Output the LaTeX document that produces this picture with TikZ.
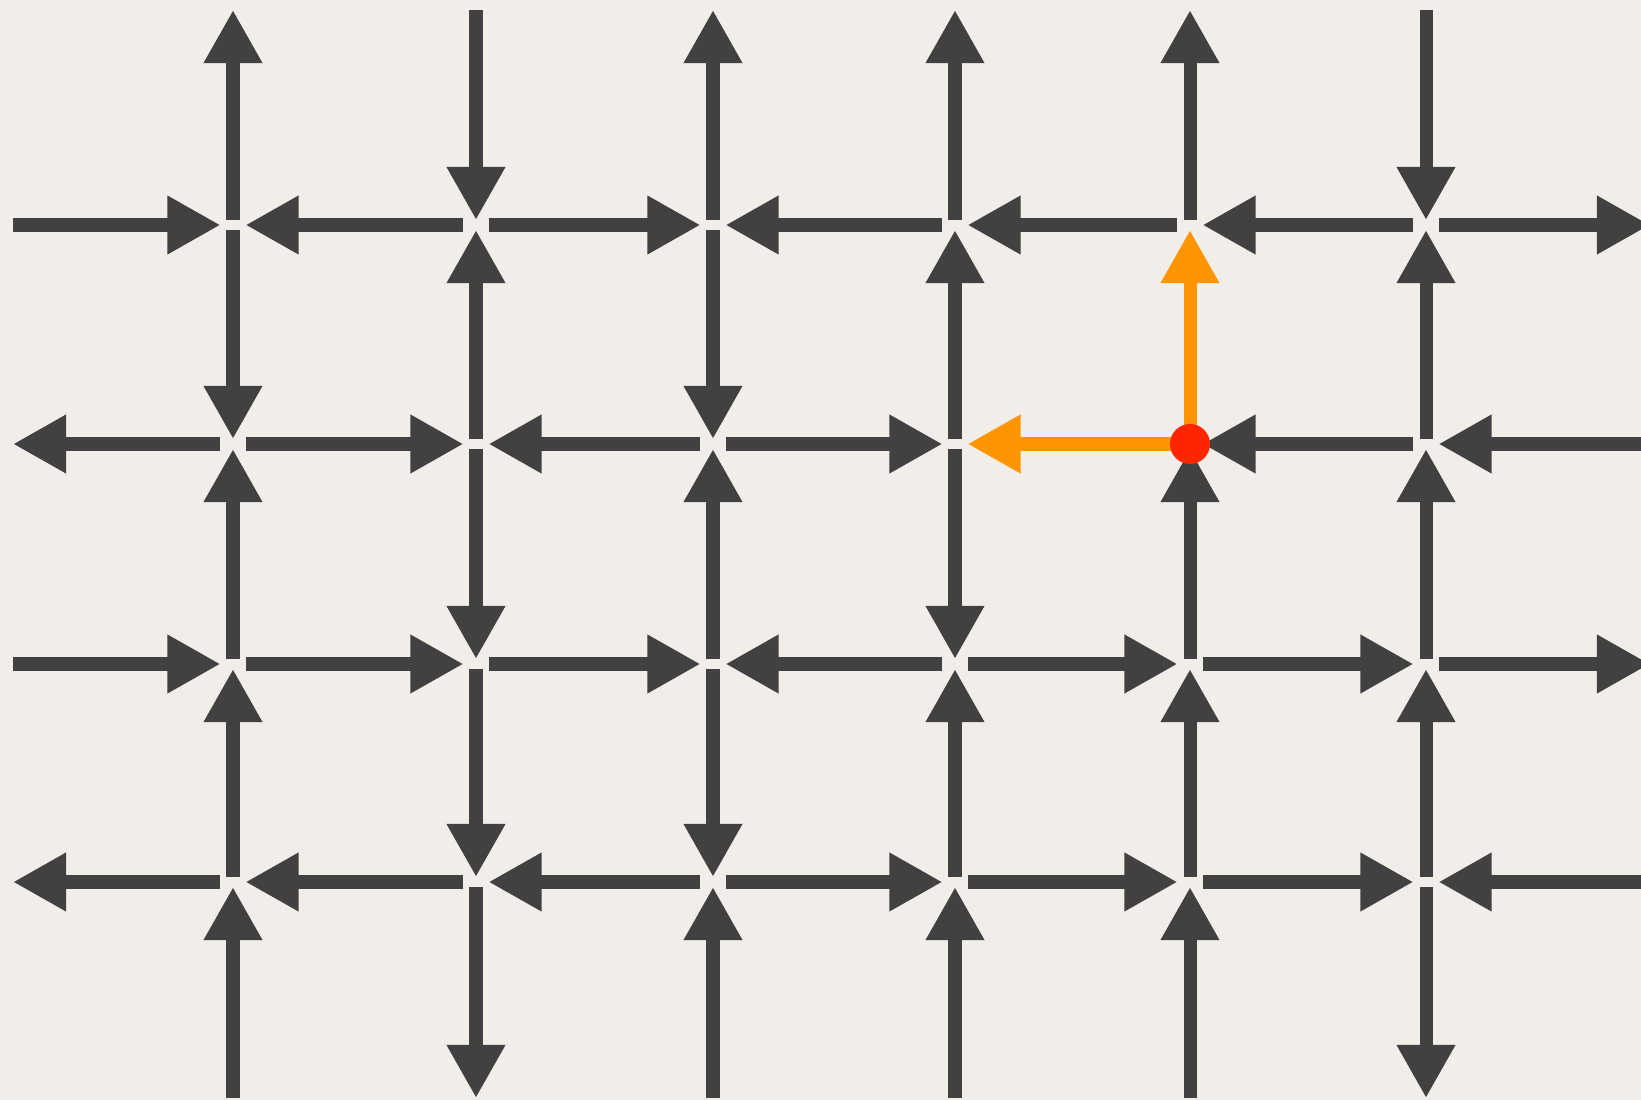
\documentclass[tikz,border=0pt]{standalone}
\usetikzlibrary{arrows.meta}
\definecolor{ink}{HTML}{414141}
\definecolor{paperA}{HTML}{F1EEE9}
\definecolor{paperB}{HTML}{E2DFDA}
\definecolor{orng}{HTML}{FF9500}
\definecolor{dotred}{HTML}{FF2600}
\tikzset{
  edge/.style={draw=ink, line width=0.13cm, line cap=butt,
    -{Triangle[length=0.53cm,width=0.55cm]}},
  hedge/.style={edge, shorten <=0.125cm, shorten >=0.125cm},
  vedge/.style={edge, shorten <=0.05cm, shorten >=0.05cm},
  hot/.style={draw=orng, shorten <=0cm},
  dotnode/.style={circle, fill=dotred, minimum size=0.4cm, inner sep=0pt}
}
\begin{document}
\begin{tikzpicture}[x=0.01cm, y=-0.01cm]
\useasboundingbox (0,0) rectangle (1641,1100);
\shade[top color=paperA, middle color=paperB, bottom color=paperA] (0,0) rectangle (1641,1100);
\clip (0,0) rectangle (1641,1100);
% grid points
\foreach \c/\x in {1/233, 2/476, 3/713, 4/955, 5/1190, 6/1426}{
  \foreach \r/\y in {1/225, 2/444, 3/664, 4/882}{
    \coordinate (n-\c-\r) at (\x,\y);
  }
  \coordinate (n-\c-0) at (\x,5);
  \coordinate (n-\c-5) at (\x,1103);
}
\foreach \r/\y in {1/225, 2/444, 3/664, 4/882}{
  \coordinate (n-0-\r) at (0.5,\y);
  \coordinate (n-7-\r) at (1662.5,\y);
}
% horizontal connectors
\foreach \a/\b in {
  0-1/1-1, 2-1/1-1, 2-1/3-1, 4-1/3-1, 5-1/4-1, 6-1/5-1, 6-1/7-1,
  1-2/0-2, 1-2/2-2, 3-2/2-2, 3-2/4-2, 6-2/5-2, 7-2/6-2,
  0-3/1-3, 1-3/2-3, 2-3/3-3, 4-3/3-3, 4-3/5-3, 5-3/6-3, 6-3/7-3,
  1-4/0-4, 2-4/1-4, 3-4/2-4, 3-4/4-4, 4-4/5-4, 5-4/6-4, 7-4/6-4}
  \draw[hedge] (n-\a) -- (n-\b);
% vertical connectors
\foreach \a/\b in {
  1-1/1-0, 1-1/1-2, 1-3/1-2, 1-4/1-3, 1-5/1-4,
  2-0/2-1, 2-2/2-1, 2-2/2-3, 2-3/2-4, 2-4/2-5,
  3-1/3-0, 3-1/3-2, 3-3/3-2, 3-3/3-4, 3-5/3-4,
  4-1/4-0, 4-2/4-1, 4-2/4-3, 4-4/4-3, 4-5/4-4,
  5-1/5-0, 5-3/5-2, 5-4/5-3, 5-5/5-4,
  6-0/6-1, 6-2/6-1, 6-3/6-2, 6-4/6-3, 6-4/6-5}
  \draw[vedge] (n-\a) -- (n-\b);
% highlighted moves
\draw[hedge, hot] (n-5-2) -- (n-4-2);
\draw[vedge, hot] (n-5-2) -- (n-5-1);
\node[dotnode] (dot) at (n-5-2) {};
\end{tikzpicture}
\end{document}
